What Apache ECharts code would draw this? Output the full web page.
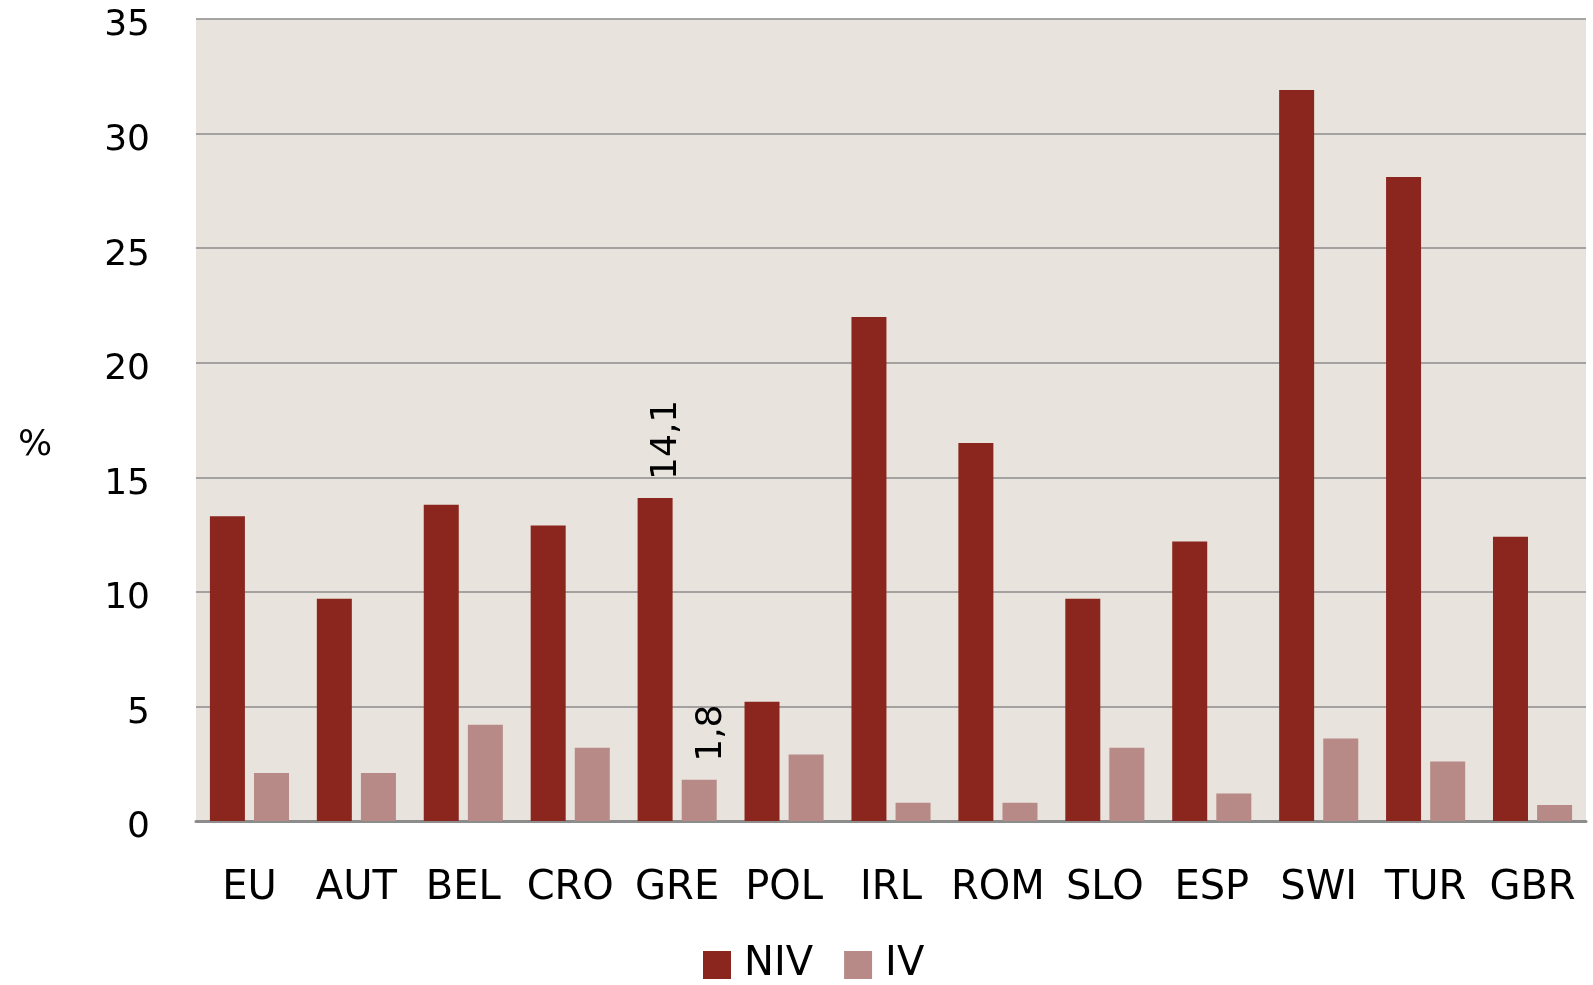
<!DOCTYPE html>
<html>
<head>
<meta charset="utf-8">
<script src="https://cdn.jsdelivr.net/npm/echarts@6/dist/echarts.min.js"></script>
<style>
  html, body { margin: 0; padding: 0; background: #ffffff; }
  #chart { width: 1593px; height: 985px; }
</style>
</head>
<body>
<div id="chart"></div>
<script>
// Countries along the x axis
const categories = ['EU', 'AUT', 'BEL', 'CRO', 'GRE', 'POL', 'IRL', 'ROM', 'SLO', 'ESP', 'SWI', 'TUR', 'GBR'];
// Shares in percent
const nivValues = [13.3, 9.7, 13.8, 12.9, 14.1, 5.2, 22.0, 16.5, 9.7, 12.2, 31.9, 28.1, 12.4];
const ivValues = [2.1, 2.1, 4.2, 3.2, 1.8, 2.9, 0.8, 0.8, 3.2, 1.2, 3.6, 2.6, 0.7];
const seriesNames = ['NIV', 'IV'];
const unitLabel = '%';
// Category whose values are written above the bars
const labelledCategory = 'GRE';

const FONT = 'DejaVu Sans';
const labelIdx = categories.indexOf(labelledCategory);

function toData(values) {
  return values.map((v, i) => i === labelIdx
    ? { value: v, label: { show: true } }
    : v);
}

// Vertical value labels, reading bottom to top
const valueLabel = {
  show: false,
  position: 'top',
  rotate: 90,
  align: 'left',
  verticalAlign: 'middle',
  distance: 18,
  offset: [0, 12],
  fontFamily: FONT,
  fontSize: 36,
  color: '#000',
  formatter: p => String(p.value).replace('.', ',')
};

const chart = echarts.init(document.getElementById('chart'), null, { renderer: 'canvas' });
chart.setOption({
  animation: false,
  backgroundColor: '#ffffff',
  grid: {
    left: 196, top: 19, right: 7, bottom: 164,
    show: true, backgroundColor: '#e8e3dc', borderWidth: 0
  },
  graphic: [{
    type: 'text',
    left: 18,
    top: 428,
    style: { text: unitLabel, font: '36px "' + FONT + '"', fill: '#000' }
  }],
  legend: {
    data: seriesNames,
    left: 698,
    top: 940,
    itemWidth: 28,
    itemHeight: 28,
    itemGap: 31,
    icon: 'rect',
    textStyle: { fontFamily: FONT, fontSize: 40, color: '#000', padding: [0, 0, 0, 8] }
  },
  xAxis: {
    type: 'category',
    data: categories,
    axisLine: { show: true, lineStyle: { color: '#8c8c8c', width: 3 } },
    axisTick: { show: false },
    axisLabel: { fontFamily: FONT, fontSize: 40, color: '#000', margin: 48, interval: 0 }
  },
  yAxis: {
    type: 'value',
    min: 0, max: 35, interval: 5,
    axisLine: { show: false },
    axisTick: { show: false },
    splitLine: { show: true, lineStyle: { color: '#8c8c8c', width: 1.6 } },
    axisLabel: {
      fontFamily: FONT, fontSize: 36, color: '#000', margin: 46,
      verticalAlign: 'top', lineHeight: 14
    }
  },
  series: [
    {
      name: seriesNames[0], type: 'bar', data: toData(nivValues),
      barWidth: 35, barGap: '26%',
      itemStyle: { color: '#8a261d' },
      label: valueLabel
    },
    {
      name: seriesNames[1], type: 'bar', data: toData(ivValues),
      barWidth: 35, barGap: '26%',
      itemStyle: { color: '#b88a87' },
      label: valueLabel
    }
  ]
});
</script>
</body>
</html>
